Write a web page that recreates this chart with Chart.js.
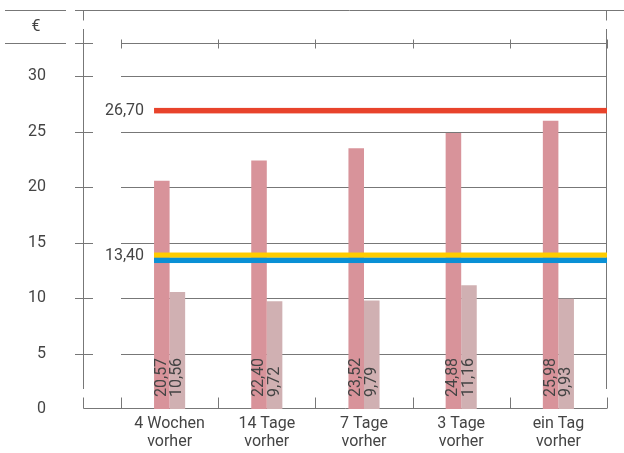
<!DOCTYPE html>
<html>
<head>
<meta charset="utf-8">
<script src="https://cdn.jsdelivr.net/npm/chart.js@4.4.0/dist/chart.umd.min.js"></script>
<style>
  body { margin: 0; background: #fff; }
  #wrap { width: 624px; height: 453px; }
</style>
</head>
<body>
<div id="wrap"><canvas id="myChart" width="624" height="453"></canvas></div>
<script>
// data
const categories = [['4 Wochen', 'vorher'], ['14 Tage', 'vorher'], ['7 Tage', 'vorher'], ['3 Tage', 'vorher'], ['ein Tag', 'vorher']];
const priceHigh = [20.57, 22.40, 23.52, 24.88, 25.98];
const priceLow = [10.56, 9.72, 9.79, 11.16, 9.93];
const refValues = [26.9, 13.87, 13.4];
const refLabels = ['26,70', '', '13,40'];
const unitLabel = '€';

const refColors = ['#E8432B', '#FFCC00', '#0A90D5'];
const refWidths = [5.5, 5.3, 5.3];
const refLabelShift = [0, 0, -4];

const fontFamily = 'Roboto, "Liberation Sans", sans-serif';
const fontWeight = '400';
const textColor = '#444';
const lineColor = '#777';

function fmt(v) {
    return v.toFixed(2).replace('.', ',');
}

// frame, grid, lines and labels
const decor = {
    id: 'decor',
    beforeDatasetsDraw(chart) {
        const ctx = chart.ctx;
        const a = chart.chartArea;
        const y = chart.scales.y;
        const x = chart.scales.x;
        ctx.save();
        ctx.strokeStyle = lineColor;
        ctx.lineWidth = 1;
        function seg(x1, y1, x2, y2) {
            ctx.beginPath();
            ctx.moveTo(x1, y1);
            ctx.lineTo(x2, y2);
            ctx.stroke();
        }
        const axisX = 83.5;
        const topY = 10.5;
        const rightX = Math.round(a.right) - 0.5;
        // top line
        seg(5, topY, 66, topY);
        seg(75, topY, 624, topY);
        seg(axisX, topY, axisX, 20.5);
        seg(rightX, topY, rightX, 20.5);
        // side lines
        seg(axisX, 29, axisX, 389);
        seg(rightX, 29, rightX, 389);
        // header line
        const hy = Math.round(a.top) + 0.5;
        seg(5, hy, 66, hy);
        seg(75, hy, 93, hy);
        seg(a.left, hy, a.right, hy);
        // category boundaries
        const bounds = [];
        for (let i = 0; i <= categories.length; i++) {
            bounds.push(Math.round(x.getPixelForValue(i - 0.5)) + 0.5);
        }
        bounds.forEach(function (bx) {
            seg(bx, hy - 4, bx, hy + 5);
        });
        // grid
        y.ticks.forEach(function (t) {
            if (t.value === 0) return;
            const gy = Math.round(y.getPixelForValue(t.value)) + 0.5;
            seg(75, gy, 93, gy);
            seg(a.left, gy, a.right, gy);
        });
        // bottom axis
        const by = Math.round(a.bottom) - 0.5;
        seg(axisX, by, a.right, by);
        seg(axisX, by, axisX, by - 11);
        bounds.forEach(function (bx) {
            seg(bx, by, bx, by - 11);
        });
        // unit
        ctx.fillStyle = textColor;
        ctx.font = fontWeight + ' 16px ' + fontFamily;
        ctx.textAlign = 'center';
        ctx.textBaseline = 'middle';
        ctx.fillText(unitLabel, 36, 27);
        ctx.restore();
    },
    afterDatasetsDraw(chart) {
        const ctx = chart.ctx;
        const a = chart.chartArea;
        const y = chart.scales.y;
        const first = chart.getDatasetMeta(0).data[0];
        const startX = first.x - first.width / 2;
        ctx.save();
        // reference lines
        refValues.forEach(function (v, i) {
            const ly = y.getPixelForValue(v);
            ctx.fillStyle = refColors[i];
            ctx.fillRect(startX, ly - refWidths[i] / 2, a.right - startX, refWidths[i]);
        });
        ctx.fillStyle = textColor;
        ctx.font = fontWeight + ' 16px ' + fontFamily;
        ctx.textAlign = 'right';
        ctx.textBaseline = 'middle';
        refValues.forEach(function (v, i) {
            if (!refLabels[i]) return;
            ctx.fillText(refLabels[i], startX - 10, y.getPixelForValue(v) + refLabelShift[i]);
        });
        // value labels in bars
        [priceHigh, priceLow].forEach(function (vals, d) {
            const meta = chart.getDatasetMeta(d);
            meta.data.forEach(function (bar, i) {
                ctx.save();
                ctx.translate(bar.x, a.bottom - 12);
                ctx.rotate(-Math.PI / 2);
                ctx.textAlign = 'left';
                ctx.textBaseline = 'middle';
                ctx.fillText(fmt(vals[i]), 0, 0);
                ctx.restore();
            });
        });
        ctx.restore();
    }
};

//chart js
const ctx = document.getElementById('myChart').getContext('2d');
const myChart = new Chart(ctx, {
    type: 'bar',
    data: {
        labels: categories,
        datasets: [
            {
                label: 'hoch',
                data: priceHigh,
                backgroundColor: '#D8939A',
                borderWidth: 0
            },
            {
                label: 'niedrig',
                data: priceLow,
                backgroundColor: '#D0B0B2',
                borderWidth: 0
            }
        ]
    },
    options: {
        responsive: false,
        animation: false,
        categoryPercentage: 0.32,
        barPercentage: 1,
        layout: {
            padding: { top: 43, right: 17, left: 0, bottom: 0 }
        },
        scales: {
            x: {
                grid: { display: false, drawTicks: false },
                border: { display: false },
                ticks: {
                    color: textColor,
                    padding: 6,
                    maxRotation: 0,
                    font: { family: fontFamily, size: 16, weight: fontWeight, lineHeight: 1.125 }
                },
                afterFit: function (scale) {
                    scale.height = 44;
                    scale.paddingLeft = 0;
                    scale.paddingRight = 0;
                }
            },
            y: {
                min: 0,
                max: 33,
                grid: { display: false, drawTicks: false },
                border: { display: false },
                ticks: {
                    stepSize: 5,
                    includeBounds: false,
                    color: textColor,
                    padding: 75,
                    font: { family: fontFamily, size: 16, weight: fontWeight }
                },
                afterFit: function (scale) {
                    scale.width = 121;
                    scale.paddingTop = 0;
                    scale.paddingBottom = 0;
                }
            }
        },
        plugins: {
            legend: { display: false },
            tooltip: { enabled: false }
        }
    },
    plugins: [decor]
});
</script>
</body>
</html>
